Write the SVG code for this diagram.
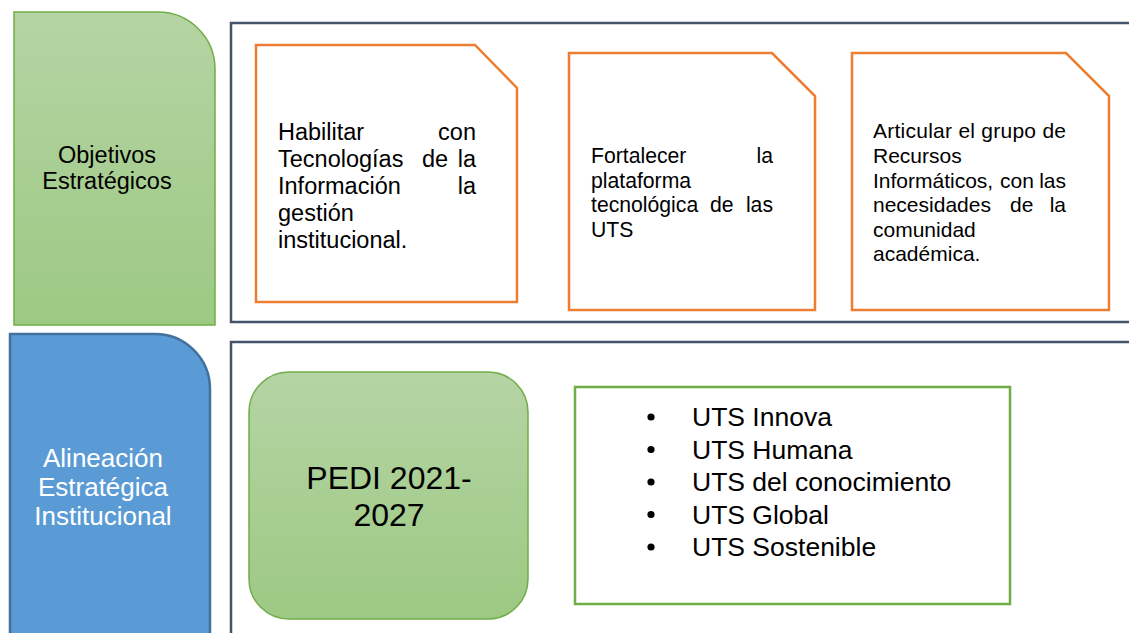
<svg xmlns="http://www.w3.org/2000/svg" width="1129" height="633" viewBox="0 0 1129 633">
<defs>
<linearGradient id="gGreen" x1="0" y1="0" x2="0" y2="1">
<stop offset="0" stop-color="#B5D4A4"/>
<stop offset="1" stop-color="#9DC983"/>
</linearGradient>
<style>
text{font-family:"Liberation Sans",Arial,sans-serif;fill:#000}
.frame{fill:none;stroke:#44546A;stroke-width:2.5}
.orange{fill:#FFFFFF;stroke:#ED7D31;stroke-width:2.5}
.greenbox{fill:url(#gGreen);stroke:#70AD47;stroke-width:1.5}
.t1{font-size:23.5px}
.t2{font-size:21.2px}
.t3{font-size:21px}
.list{font-size:26.5px}
</style>
</defs>
<rect width="1129" height="633" fill="#FFFFFF"/>

<g id="objetivos-label">
<path class="greenbox" d="M14,12 H158 A57,57 0 0 1 215,69 V325 H14 Z"/>
<text x="107" y="163" font-size="23.5" text-anchor="middle">Objetivos</text>
<text x="107" y="189" font-size="23.5" text-anchor="middle">Estratégicos</text>
</g>

<g id="alineacion-label">
<path d="M10,334 H155 A55,55 0 0 1 210,389 V640 H10 Z" fill="#5B9BD5" stroke="#41719C" stroke-width="2.5"/>
<text x="103" y="467" font-size="26" text-anchor="middle" style="fill:#FFFFFF">Alineación</text>
<text x="103" y="496" font-size="26" text-anchor="middle" style="fill:#FFFFFF">Estratégica</text>
<text x="103" y="525" font-size="26" text-anchor="middle" style="fill:#FFFFFF">Institucional</text>
</g>

<g id="frame-objetivos">
<path class="frame" d="M1135,23 H231 V322 H1135"/>
</g>
<g id="frame-alineacion">
<path class="frame" d="M1135,342 H231 V640"/>
</g>

<g id="obj1">
<path class="orange" d="M256,45 H475 L517,88 V302 H256 Z"/>
<text class="t1" x="278" y="140">Habilitar</text>
<text class="t1" x="476" y="140" text-anchor="end">con</text>
<text class="t1" x="278" y="167">Tecnologías</text>
<text class="t1" x="422" y="167">de</text>
<text class="t1" x="476" y="167" text-anchor="end">la</text>
<text class="t1" x="278" y="194">Información</text>
<text class="t1" x="476" y="194" text-anchor="end">la</text>
<text class="t1" x="278" y="221">gestión</text>
<text class="t1" x="278" y="248">institucional.</text>
</g>

<g id="obj2">
<path class="orange" d="M569,53 H772 L815,96 V310 H569 Z"/>
<text class="t2" x="591" y="163">Fortalecer</text>
<text class="t2" x="773" y="163" text-anchor="end">la</text>
<text class="t2" x="591" y="187.5">plataforma</text>
<text class="t2" x="591" y="212">tecnológica</text>
<text class="t2" x="710" y="212">de</text>
<text class="t2" x="773" y="212" text-anchor="end">las</text>
<text class="t2" x="591" y="236.5">UTS</text>
</g>

<g id="obj3">
<path class="orange" d="M852,53 H1066 L1109,96 V310 H852 Z"/>
<text class="t3" x="873" y="138" textLength="193" lengthAdjust="spacing">Articular el grupo de</text>
<text class="t3" x="873" y="163">Recursos</text>
<text class="t3" x="873" y="188">Informáticos,</text>
<text class="t3" x="1000" y="188">con</text>
<text class="t3" x="1066" y="188" text-anchor="end">las</text>
<text class="t3" x="873" y="212">necesidades</text>
<text class="t3" x="1010" y="212">de</text>
<text class="t3" x="1066" y="212" text-anchor="end">la</text>
<text class="t3" x="873" y="237">comunidad</text>
<text class="t3" x="873" y="261">académica.</text>
</g>

<g id="pedi">
<rect class="greenbox" x="249" y="372" width="279" height="247" rx="40" ry="40"/>
<text x="389" y="489" font-size="32" text-anchor="middle">PEDI 2021-</text>
<text x="389" y="526" font-size="32" text-anchor="middle">2027</text>
</g>

<g id="pilares">
<rect x="575" y="387" width="435" height="217" fill="#FFFFFF" stroke="#70AD47" stroke-width="2.5"/>
<g fill="#000000">
<circle cx="651" cy="417" r="3.6"/>
<circle cx="651" cy="449.5" r="3.6"/>
<circle cx="651" cy="482" r="3.6"/>
<circle cx="651" cy="514.5" r="3.6"/>
<circle cx="651" cy="547" r="3.6"/>
</g>
<text class="list" x="692" y="426">UTS Innova</text>
<text class="list" x="692" y="458.5">UTS Humana</text>
<text class="list" x="692" y="491">UTS del conocimiento</text>
<text class="list" x="692" y="523.5">UTS Global</text>
<text class="list" x="692" y="556">UTS Sostenible</text>
</g>
</svg>
